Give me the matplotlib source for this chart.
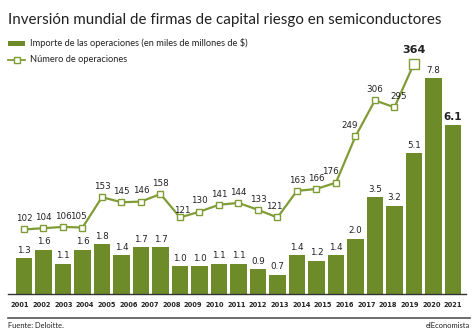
import numpy as np
import matplotlib
matplotlib.use("Agg")
import matplotlib.pyplot as plt
from matplotlib.patches import Rectangle
from matplotlib.lines import Line2D

# Chart data
years = [str(y) for y in range(2001, 2022)]
importe = [1.3, 1.6, 1.1, 1.6, 1.8, 1.4, 1.7, 1.7, 1.0, 1.0, 1.1, 1.1,
           0.9, 0.7, 1.4, 1.2, 1.4, 2.0, 3.5, 3.2, 5.1, 7.8, 6.1]
operaciones = [102, 104, 106, 105, 153, 145, 146, 158, 121, 130, 141,
               144, 133, 121, 163, 166, 176, 249, 306, 295, 364]

W, H = 474, 333
barColor = "#6e8b2a"
lineColor = "#7f9c36"
textColor = "#222222"

def fx(px):
    return px / W

def fy(py):
    return 1 - py / H

fig = plt.figure(figsize=(W / 100, H / 100), dpi=100)
fig.patch.set_facecolor("white")

# Main axes: baseline at y=294 px
ax = fig.add_axes([fx(8), fy(294), (466 - 8) / W, (294 - 40) / H])
ax2 = ax.twinx()

xBars = np.arange(len(importe))
xLine = np.arange(len(operaciones))

ax.bar(xBars, importe, width=0.84, color=barColor, zorder=2)
ax.set_xlim(-0.82, 22.67)
ax.set_ylim(0, 254 / 27.65)
ax2.set_ylim(0, 254 / 0.6328)

ax2.plot(xLine, operaciones, color=lineColor, lw=1.6, zorder=3)
ax2.plot(xLine[:-1], operaciones[:-1], ls="none", marker="s", ms=4.2,
         mfc="white", mec=lineColor, mew=1.0, zorder=4)
ax2.plot(xLine[-1], operaciones[-1], ls="none", marker="s", ms=7.5,
         mfc="white", mec=lineColor, mew=1.0, zorder=4)

# Bar value labels
for i, v in enumerate(importe):
    last = i == len(importe) - 1
    ax.annotate(f"{v:.1f}", (xBars[i], v), xytext=(0, 2.5),
                textcoords="offset points", ha="center", va="bottom",
                fontsize=7.5 if last else 6.3,
                fontweight="bold" if last else "normal",
                color=textColor, family="DejaVu Sans")

# Line value labels
nudge = {3: (-3, 0), 8: (2, -3), 13: (-2, 0), 16: (-4, 0), 17: (-4, 0),
         19: (3, 0)}
for i, v in enumerate(operaciones):
    last = i == len(operaciones) - 1
    dx, dy = nudge.get(i, (0, 0))
    ax2.annotate(f"{v}", (xLine[i], v), xytext=(dx, (6 if last else 4.5) + dy),
                 textcoords="offset points", ha="center", va="bottom",
                 fontsize=8 if last else 6.3,
                 fontweight="bold" if last else "normal",
                 color=textColor, family="DejaVu Sans")

# Year labels spread along the axis
ax.set_xticks(np.linspace(-0.2, 22.0, len(years)))
ax.set_xticklabels(years, fontsize=4.8, fontweight="bold", color=textColor)
ax.tick_params(axis="x", length=0, pad=6)
ax.set_yticks([])
ax2.set_yticks([])
for a in (ax, ax2):
    for s in ("top", "right", "left"):
        a.spines[s].set_visible(False)
ax.spines["bottom"].set_color("#333333")
ax.spines["bottom"].set_linewidth(1.0)
ax2.spines["bottom"].set_visible(False)

# Title
fig.text(fx(8), fy(20), "Inversión mundial de firmas de capital riesgo en semiconductores",
         fontsize=10.9, family="Lato", color=textColor, va="center", ha="left")

# Legend
fig.add_artist(Rectangle((fx(8), fy(45.5)), 17 / W, 5 / H, transform=fig.transFigure,
                         facecolor=barColor, edgecolor="none"))
fig.text(fx(30), fy(43), "Importe de las operaciones (en miles de millones de $)",
         fontsize=6.7, family="Lato", color=textColor, va="center", ha="left")
fig.add_artist(Line2D([fx(8), fx(25)], [fy(60), fy(60)], transform=fig.transFigure,
                      color=lineColor, lw=1.3))
fig.add_artist(Line2D([fx(16.5)], [fy(60)], transform=fig.transFigure, marker="s",
                      ms=4, mfc="white", mec=lineColor, mew=1.0))
fig.text(fx(30), fy(60), "Número de operaciones",
         fontsize=6.7, family="Lato", color=textColor, va="center", ha="left")

# Footer
fig.add_artist(Line2D([fx(8), fx(470)], [fy(318), fy(318)], transform=fig.transFigure,
                      color="#555555", lw=1.2))
fig.text(fx(8), fy(326), "Fuente: Deloitte.", fontsize=5.4, family="Lato",
         color=textColor, va="center", ha="left")
fig.text(fx(470), fy(326), "elEconomista", fontsize=5.4, family="Lato",
         color=textColor, va="center", ha="right")

fig.savefig("out.png", dpi=100)
